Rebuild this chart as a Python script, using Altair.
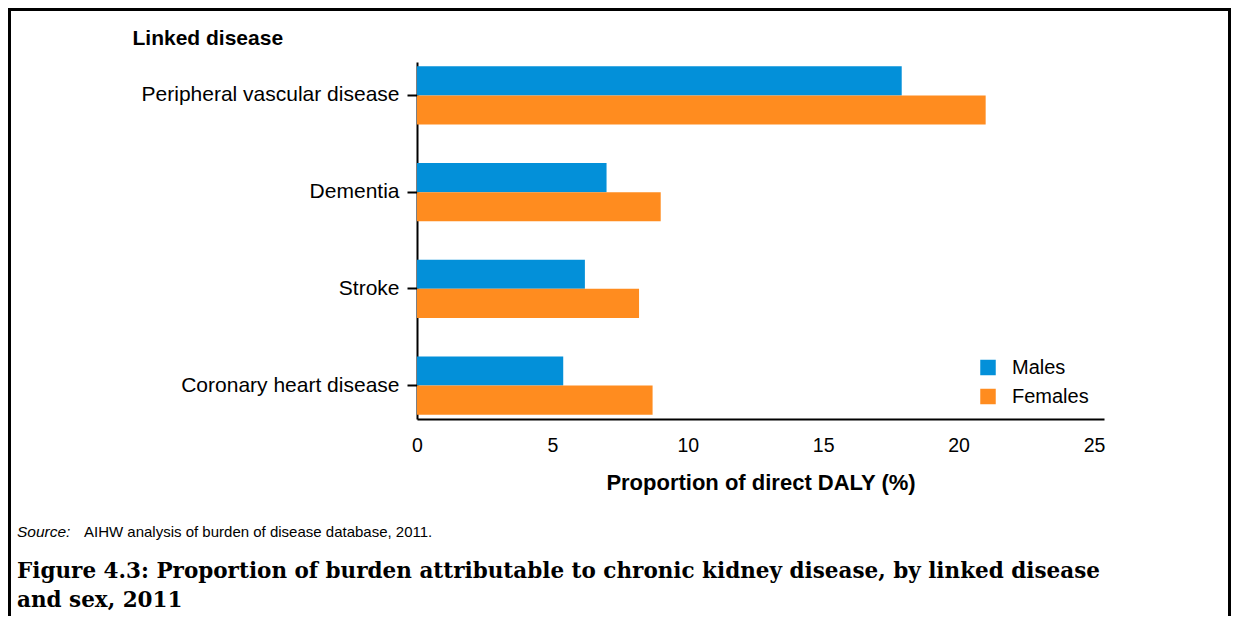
import altair as alt
import pandas as pd

# ---- data ----
diseases = ["Peripheral vascular disease", "Dementia", "Stroke", "Coronary heart disease"]
males = [17.9, 7.0, 6.2, 5.4]
females = [21.0, 9.0, 8.2, 8.7]
sexes = ["Males", "Females"]
colors = ["#0390D9", "#FF8C1F"]
x_ticks = [0, 5, 10, 15, 20, 25]

y_title = "Linked disease"
x_title = "Proportion of direct DALY (%)"
source_label = "Source:"
source_text = "AIHW analysis of burden of disease database, 2011."
caption_lines = [
    "Figure 4.3: Proportion of burden attributable to chronic kidney disease, by linked disease",
    "and sex, 2011",
]

rows = []
for d, m, f in zip(diseases, males, females):
    rows.append({"Disease": d, "Sex": "Males", "Value": m})
    rows.append({"Disease": d, "Sex": "Females", "Value": f})
df = pd.DataFrame(rows)

SANS = "Liberation Sans"
SERIF = "DejaVu Serif"

W, H = 687, 357
PAD = {"left": 409, "top": 54, "right": 127, "bottom": 197}

bars = alt.Chart(df).mark_bar().encode(
    y=alt.Y(
        "Disease:N",
        sort=diseases,
        scale=alt.Scale(paddingInner=0.4, paddingOuter=0.045),
        axis=alt.Axis(
            title=y_title,
            titleAngle=0,
            titleAlign="left",
            titleBaseline="alphabetic",
            titleX=-285,
            titleY=-17.7,
            titleFontSize=21,
            titleFontWeight="bold",
            titleColor="black",
            labelFontSize=21,
            labelColor="black",
            labelPadding=8,
            labelLimit=0,
            tickSize=10,
            tickWidth=2,
            tickColor="black",
            domainColor="black",
            domainWidth=2,
            grid=False,
        ),
    ),
    yOffset=alt.YOffset(
        "Sex:N", sort=sexes, scale=alt.Scale(paddingInner=0, paddingOuter=0)
    ),
    x=alt.X(
        "Value:Q",
        scale=alt.Scale(domain=[0, 25.37], nice=False, zero=True),
        axis=alt.Axis(
            title=x_title,
            values=x_ticks,
            ticks=False,
            tickSize=0,
            labelPadding=17,
            labelFontSize=19.5,
            labelColor="black",
            labelFlush=False,
            titleFontSize=22,
            titleFontWeight="bold",
            titleColor="black",
            titleBaseline="alphabetic",
            titleY=70,
            domainColor="black",
            domainWidth=2,
            grid=False,
        ),
    ),
    color=alt.Color(
        "Sex:N",
        sort=sexes,
        scale=alt.Scale(domain=sexes, range=colors),
        legend=alt.Legend(
            title=None,
            orient="none",
            legendX=561,
            legendY=295.5,
            padding=0,
            symbolType="square",
            symbolSize=240,
            symbolStrokeWidth=0,
            symbolOpacity=1,
            labelFontSize=20,
            labelColor="black",
            labelOffset=14,
            rowPadding=9,
        ),
    ),
)

one = alt.Data(values=[{}])


def txt(s, x, y, size, font=SANS, weight="normal", style="normal"):
    return alt.Chart(one).mark_text(
        text=s,
        align="left",
        baseline="alphabetic",
        font=font,
        fontSize=size,
        fontWeight=weight,
        fontStyle=style,
        color="black",
    ).encode(x=alt.value(x), y=alt.value(y))


texts = [
    txt(source_label, -400, 474.7, 15.5, style="italic"),
    txt(source_text, -333, 474.7, 15),
    txt(caption_lines[0], -400, 516, 21.5, font=SERIF, weight="bold"),
    txt(caption_lines[1], -400, 545, 21.5, font=SERIF, weight="bold"),
]

# decorative frame (left, top, right edges) like the document crop
left_edge = -PAD["left"] + 1.5
right_edge = W + PAD["right"] - 1.5
top_edge = -PAD["top"] + 1.5
bottom_edge = H + PAD["bottom"]
frame = [
    alt.Chart(one).mark_rule(color="black", strokeWidth=3).encode(
        x=alt.value(left_edge), y=alt.value(top_edge - 1.5), y2=alt.value(bottom_edge)
    ),
    alt.Chart(one).mark_rule(color="black", strokeWidth=3).encode(
        x=alt.value(right_edge), y=alt.value(top_edge - 1.5), y2=alt.value(bottom_edge)
    ),
    alt.Chart(one).mark_rule(color="black", strokeWidth=3).encode(
        y=alt.value(top_edge), x=alt.value(left_edge - 1.5), x2=alt.value(right_edge + 1.5)
    ),
]

chart = (
    alt.layer(bars, *texts, *frame)
    .properties(
        width=W,
        height=H,
        autosize=alt.AutoSizeParams(type="none"),
        padding=PAD,
        background="white",
    )
    .configure_view(stroke=None)
    .configure_axis(labelFont=SANS, titleFont=SANS)
    .configure_legend(labelFont=SANS)
)

chart.save("out.html", embed_options={"renderer": "svg", "actions": False})
